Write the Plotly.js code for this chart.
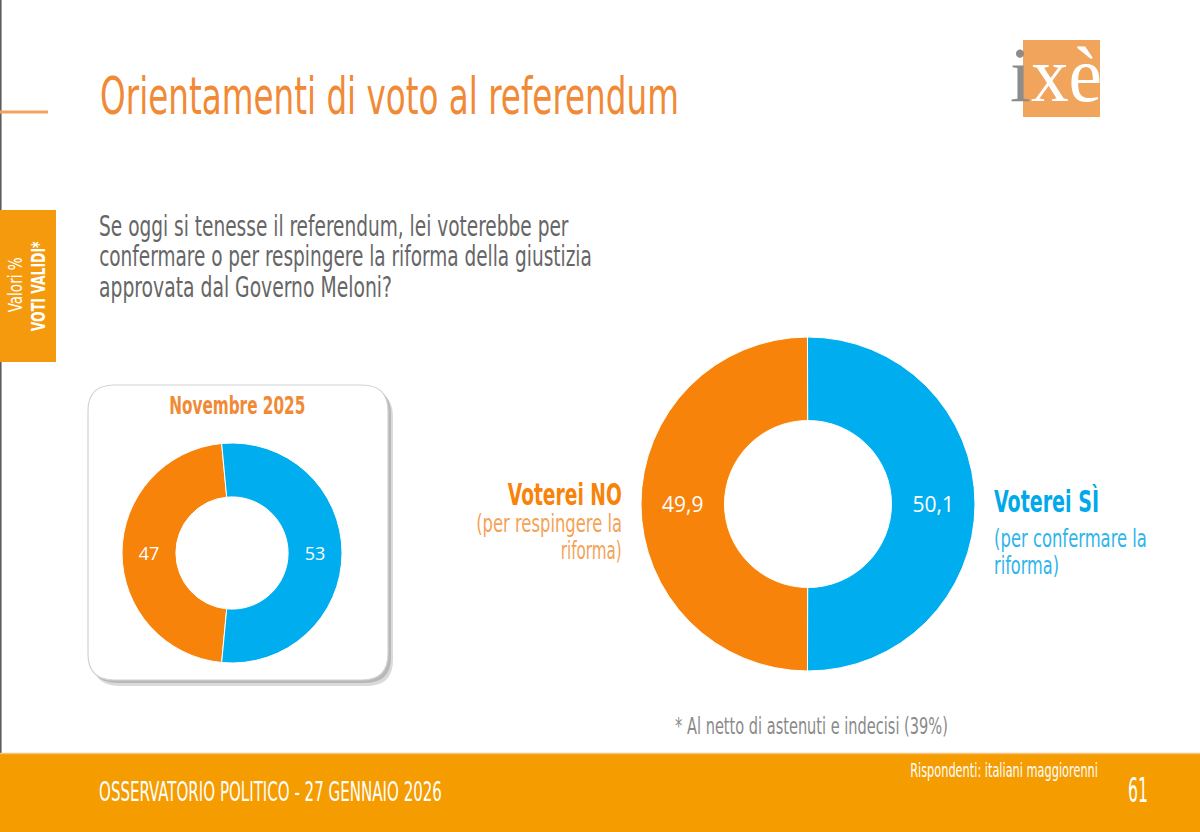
<!DOCTYPE html>
<html>
<head>
<meta charset="utf-8">
<script src="https://cdn.plot.ly/plotly-3.0.1.min.js"></script>
<style>
html,body{margin:0;padding:0;background:#fff;}
#chart{width:1200px;height:832px;}
.annotation text{font-stretch:condensed;}
</style>
</head>
<body>
<div id="chart"></div>
<script>
// ---- data ----
var categories = ["Voterei NO", "Voterei SÌ"];
var valuesNow = [49.9, 50.1];       // gennaio 2026
var valuesPrev = [47, 53];          // novembre 2025
var sliceColors = ["#f8830b", "#00aeef"];
var labelsNow = valuesNow.map(function(v){ return String(v).replace('.', ','); });
var labelsPrev = valuesPrev.map(function(v){ return String(v).replace('.', ','); });

var W = 1200, H = 832;
function X(px){ return px / W; }
function Y(py){ return 1 - py / H; }

var NARROW = "DejaVu Sans Condensed, Liberation Sans Narrow, DejaVu Sans, sans-serif";
var NUMFONT = "Open Sans, Noto Sans, sans-serif";

// donut geometry (pixel centre + radius)
var big = {cx: 808, cy: 504, r: 167};
var small = {cx: 232, cy: 553, r: 110};

function dom(g){
  return {x: [X(g.cx - g.r), X(g.cx + g.r)], y: [Y(g.cy + g.r), Y(g.cy - g.r)]};
}
// first slice (NO) starts on the left so that it is centred at 9 o'clock
function startAngle(vals){ return 270 - vals[0] / (vals[0] + vals[1]) * 180; }

var traces = [
  {
    type: "pie", labels: categories, values: valuesPrev, text: labelsPrev,
    textinfo: "text", textposition: "inside", insidetextorientation: "horizontal",
    hole: 0.51, sort: false, direction: "clockwise",
    rotation: startAngle(valuesPrev),
    marker: {colors: sliceColors, line: {color: "#ffffff", width: 1}},
    textfont: {family: NUMFONT, size: 18, color: "#ffffff"},
    domain: dom(small), showlegend: false, hoverinfo: "label+value"
  },
  {
    type: "pie", labels: categories, values: valuesNow, text: labelsNow,
    textinfo: "text", textposition: "inside", insidetextorientation: "horizontal",
    hole: 0.5, sort: false, direction: "clockwise",
    rotation: startAngle(valuesNow),
    marker: {colors: sliceColors, line: {color: "#ffffff", width: 1}},
    textfont: {family: NUMFONT, size: 21, color: "#ffffff"},
    domain: dom(big), showlegend: false, hoverinfo: "label+value"
  }
];

function rrect(x0, y0, x1, y1, r){
  function p(x, y){ return X(x) + "," + Y(y); }
  return "M" + p(x0 + r, y0) + " L" + p(x1 - r, y0) +
    " Q" + p(x1, y0) + " " + p(x1, y0 + r) +
    " L" + p(x1, y1 - r) +
    " Q" + p(x1, y1) + " " + p(x1 - r, y1) +
    " L" + p(x0 + r, y1) +
    " Q" + p(x0, y1) + " " + p(x0, y1 - r) +
    " L" + p(x0, y0 + r) +
    " Q" + p(x0, y0) + " " + p(x0 + r, y0) + " Z";
}

var shapes = [
  {type: "line", xref: "paper", yref: "paper", x0: X(0.8), x1: X(0.8), y0: 0, y1: 1, line: {color: "#555555", width: 1.5}, layer: "below"},
  {type: "line", xref: "paper", yref: "paper", x0: X(0), x1: X(48), y0: Y(112), y1: Y(112), line: {color: "#f2a262", width: 3}, layer: "below"},
  {type: "rect", xref: "paper", yref: "paper", x0: X(0), x1: X(56), y0: Y(210), y1: Y(362), fillcolor: "#f59a0c", line: {width: 0}, layer: "below"},
  {type: "rect", xref: "paper", yref: "paper", x0: X(1023), x1: X(1100), y0: Y(40), y1: Y(117), fillcolor: "#f0a45c", line: {width: 0}, layer: "below"},
  {type: "path", xref: "paper", yref: "paper", path: rrect(93, 391, 393, 686, 26), fillcolor: "rgba(150,150,150,0.35)", line: {width: 0}, layer: "below"},
  {type: "path", xref: "paper", yref: "paper", path: rrect(91, 388, 391, 683, 26), fillcolor: "rgba(120,120,120,0.35)", line: {width: 0}, layer: "below"},
  {type: "path", xref: "paper", yref: "paper", path: rrect(88, 385, 388, 680, 26), fillcolor: "#ffffff", line: {color: "#d2d2d2", width: 1.2}, layer: "below"},
  {type: "rect", xref: "paper", yref: "paper", x0: 0, x1: 1, y0: 0, y1: Y(753), fillcolor: "#f59c00", line: {width: 0}, layer: "below"},
  {type: "line", xref: "paper", yref: "paper", x0: 0, x1: 1, y0: Y(753.5), y1: Y(753.5), line: {color: "#f7c27a", width: 1.5}, layer: "below"}
];

// each text: [text, px, py, xanchor, size, color, targetWidthPx, extra]
var textSpecs = [
  ["Orientamenti di voto al referendum", 98, 96, "left", 52, "#f08a36", 579],
  ["<span style='color:#8c8c8c'>i</span>xè", 1008, 74, "left", 78, "#ffffff", 92, {family: "Liberation Serif, DejaVu Serif, serif"}],
  ["Se oggi si tenesse il referendum, lei voterebbe per", 97, 226, "left", 28, "#666666", 470],
  ["confermare o per respingere la riforma della giustizia", 97, 256, "left", 28, "#666666", 493],
  ["approvata dal Governo Meloni?", 97, 287, "left", 28, "#666666", 293],
  ["Valori %", 15, 285.5, "center", 19, "#ffffff", 55, {textangle: -90}],
  ["<b>VOTI VALIDI*</b>", 38, 287, "center", 19, "#ffffff", 90, {textangle: -90}],
  ["<b>Novembre 2025</b>", 237, 406, "center", 25, "#f08a36", 136],
  ["<b>Voterei NO</b>", 624, 494, "right", 30, "#f8830b", 114],
  ["(per respingere la", 624, 524, "right", 24, "#f5a256", 146],
  ["riforma)", 624, 551, "right", 24, "#f5a256", 61],
  ["<b>Voterei SÌ</b>", 992, 501, "left", 30, "#00a9e9", 105],
  ["(per confermare la", 992, 539, "left", 24, "#2eb5ea", 153],
  ["riforma)", 992, 566, "left", 24, "#2eb5ea", 65],
  ["* Al netto di astenuti e indecisi (39%)", 673, 726, "left", 23, "#8a8a8a", 273],
  ["OSSERVATORIO POLITICO - 27 GENNAIO 2026", 97, 792, "left", 26, "#ffffff", 343],
  ["Rispondenti: italiani maggiorenni", 1100, 770, "right", 19, "#ffffff", 188],
  ["61", 1138, 790, "center", 33, "#ffffff", 20]
];

var annotations = textSpecs.map(function(s){
  var extra = s[7] || {};
  var a = {text: s[0], x: X(s[1]), y: Y(s[2]), xref: "paper", yref: "paper", showarrow: false,
           xanchor: s[3], yanchor: "middle",
           font: {family: extra.family || NARROW, size: s[4], color: s[5]}};
  if (extra.textangle !== undefined) a.textangle = extra.textangle;
  return a;
});

var layout = {
  width: W, height: H,
  margin: {l: 0, r: 0, t: 0, b: 0, pad: 0},
  paper_bgcolor: "#ffffff", plot_bgcolor: "#ffffff",
  showlegend: false,
  shapes: shapes, annotations: annotations
};

Plotly.newPlot("chart", traces, layout, {displayModeBar: false, staticPlot: true}).then(function(gd){
  // condense each text horizontally to the width it has in the reference
  var groups = gd.querySelectorAll("g.annotation");
  groups.forEach(function(g){
    var i = +g.getAttribute("data-index");
    var spec = textSpecs[i];
    if (!spec || !spec[6]) return;
    var t = g.querySelector("text.annotation-text");
    if (!t) return;
    var bb = t.getBBox();
    if (!bb.width) return;
    var s = spec[6] / bb.width;
    var ax = spec[3] === "right" ? bb.x + bb.width : (spec[3] === "center" ? bb.x + bb.width / 2 : bb.x);
    var prev = t.getAttribute("transform") || "";
    t.setAttribute("transform", prev + " translate(" + ax + ",0) scale(" + s + ",1) translate(" + (-ax) + ",0)");
  });
});
</script>
</body>
</html>
